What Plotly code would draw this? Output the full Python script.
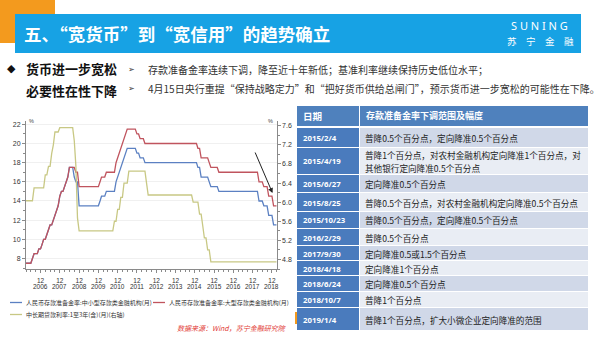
import pandas as pd
import plotly.graph_objects as go

W, H = 600, 338
CJK = "Noto Sans CJK SC"

# ---- data -------------------------------------------------------------
months = pd.date_range("2006-03-31", "2019-03-31", freq="ME")

# RRR, small & medium depository institutions (%, monthly)
rrr_small = [
    7.5, 7.5, 7.5, 7.5, 8.0, 8.5, 8.5, 8.5, 9.0, 9.0,
    9.5, 10.0, 10.0, 10.5, 11.0, 11.5, 11.5, 12.0, 12.5, 13.0, 13.5, 14.5,
    15.0, 15.0, 15.5, 16.0, 16.5, 17.5, 17.5, 17.5, 16.5, 16.0, 16.0, 13.5,
    13.5, 13.5, 13.5, 13.5, 13.5, 13.5, 13.5, 13.5, 13.5, 13.5, 13.5, 13.5,
    14.0, 14.5, 14.5, 14.5, 15.0, 15.0, 15.0, 15.0, 15.0, 15.0, 16.0, 16.5,
    17.0, 17.5, 18.0, 18.5, 19.0, 19.5, 19.5, 19.5, 19.5, 19.5, 19.5, 19.0,
    19.0, 18.5, 18.5, 18.5, 18.0, 18.0, 18.0, 18.0, 18.0, 18.0, 18.0, 18.0,
    18.0, 18.0, 18.0, 18.0, 18.0, 18.0, 18.0, 18.0, 18.0, 18.0, 18.0, 18.0,
    18.0, 18.0, 18.0, 18.0, 18.0, 18.0, 18.0, 18.0, 18.0, 18.0, 18.0, 18.0,
    18.0, 17.5, 17.5, 16.5, 16.5, 16.5, 16.5, 16.5, 16.0, 15.5, 15.5, 15.5,
    15.5, 15.5, 15.0, 15.0, 15.0, 15.0, 15.0, 15.0, 15.0, 15.0, 15.0, 15.0,
    15.0, 15.0, 15.0, 15.0, 15.0, 15.0, 15.0, 15.0, 15.0, 15.0, 15.0, 15.0,
    15.0, 15.0, 15.0, 14.0, 14.0, 14.0, 13.5, 13.5, 13.5, 12.5, 12.5, 12.5,
    11.5, 11.5, 11.5,
]

# RRR, large depository institutions (%, monthly)
rrr_large = [
    7.5, 7.5, 7.5, 7.5, 8.0, 8.5, 8.5, 8.5, 9.0, 9.0,
    9.5, 10.0, 10.0, 10.5, 11.0, 11.5, 11.5, 12.0, 12.5, 13.0, 13.5, 14.5,
    15.0, 15.0, 15.5, 16.0, 16.5, 17.5, 17.5, 17.5, 17.5, 17.0, 17.0, 15.5,
    15.5, 15.5, 15.5, 15.5, 15.5, 15.5, 15.5, 15.5, 15.5, 15.5, 15.5, 15.5,
    16.0, 16.5, 16.5, 16.5, 17.0, 17.0, 17.0, 17.0, 17.0, 17.0, 18.0, 18.5,
    19.0, 19.5, 20.0, 20.5, 21.0, 21.5, 21.5, 21.5, 21.5, 21.5, 21.5, 21.0,
    21.0, 20.5, 20.5, 20.5, 20.0, 20.0, 20.0, 20.0, 20.0, 20.0, 20.0, 20.0,
    20.0, 20.0, 20.0, 20.0, 20.0, 20.0, 20.0, 20.0, 20.0, 20.0, 20.0, 20.0,
    20.0, 20.0, 20.0, 20.0, 20.0, 20.0, 20.0, 20.0, 20.0, 20.0, 20.0, 20.0,
    20.0, 19.5, 19.5, 18.5, 18.5, 18.5, 18.5, 18.5, 18.0, 17.5, 17.5, 17.5,
    17.5, 17.5, 17.0, 17.0, 17.0, 17.0, 17.0, 17.0, 17.0, 17.0, 17.0, 17.0,
    17.0, 17.0, 17.0, 17.0, 17.0, 17.0, 17.0, 17.0, 17.0, 17.0, 17.0, 17.0,
    17.0, 17.0, 17.0, 16.0, 16.0, 16.0, 15.5, 15.5, 15.5, 14.5, 14.5, 14.5,
    13.5, 13.5, 13.5,
]

# medium/long-term loan rate, 1-3 years (%, monthly, right axis)
loan_1_3y = [
    6.03, 6.03, 6.03, 6.03, 6.03, 6.30, 6.30, 6.30, 6.30, 6.30,
    6.30, 6.30, 6.57, 6.57, 6.75, 6.75, 7.02, 7.20, 7.47, 7.47, 7.47, 7.56,
    7.56, 7.56, 7.56, 7.56, 7.56, 7.56, 7.56, 7.56, 7.29, 6.75, 5.67, 5.40,
    5.40, 5.40, 5.40, 5.40, 5.40, 5.40, 5.40, 5.40, 5.40, 5.40, 5.40, 5.40,
    5.40, 5.40, 5.40, 5.40, 5.40, 5.40, 5.40, 5.40, 5.40, 5.60, 5.60, 5.85,
    5.85, 6.10, 6.10, 6.40, 6.40, 6.40, 6.65, 6.65, 6.65, 6.65, 6.65, 6.65,
    6.65, 6.65, 6.65, 6.65, 6.65, 6.40, 6.15, 6.15, 6.15, 6.15, 6.15, 6.15,
    6.15, 6.15, 6.15, 6.15, 6.15, 6.15, 6.15, 6.15, 6.15, 6.15, 6.15, 6.15,
    6.15, 6.15, 6.15, 6.15, 6.15, 6.15, 6.15, 6.15, 6.15, 6.15, 6.00, 6.00,
    6.00, 6.00, 5.75, 5.75, 5.50, 5.25, 5.25, 5.00, 5.00, 4.75, 4.75, 4.75,
    4.75, 4.75, 4.75, 4.75, 4.75, 4.75, 4.75, 4.75, 4.75, 4.75, 4.75, 4.75,
    4.75, 4.75, 4.75, 4.75, 4.75, 4.75, 4.75, 4.75, 4.75, 4.75, 4.75, 4.75,
    4.75, 4.75, 4.75, 4.75, 4.75, 4.75, 4.75, 4.75, 4.75, 4.75, 4.75, 4.75,
    4.75, 4.75, 4.75,
]

series_names = [
    "人民币存款准备金率:中小型存款类金融机构(月)",
    "人民币存款准备金率:大型存款类金融机构(月)",
    "中长期贷款利率:1至3年(含)(月)(右轴)",
]
series_colors = ["#5B80C2", "#C0545E", "#C8C884"]

year_ticks = list(range(2006, 2019))
month_label = "12"
left_ticks = [8, 10, 12, 14, 16, 18, 20, 22]
right_ticks = [4.8, 5.2, 5.6, 6.0, 6.4, 6.8, 7.2, 7.6]

table_header = ["日期", "存款准备金率下调范围及幅度"]
cut_dates = ["2015/2/4", "2015/4/19", "2015/6/27", "2015/8/25", "2015/10/23",
             "2016/2/29", "2017/9/30", "2018/4/18", "2018/6/24", "2018/10/7",
             "2019/1/4"]
cut_details = [
    "普降0.5个百分点，定向降准0.5个百分点",
    "普降1个百分点，对农村金融机构定向降准1个百分点，对<br>其他银行定向降准0.5个百分点",
    "定向降准0.5个百分点",
    "普降0.5个百分点，对农村金融机构定向降准0.5个百分点",
    "普降0.5个百分点，定向降准0.5个百分点",
    "普降0.5个百分点",
    "定向降准0.5或1.5个百分点",
    "定向降准1个百分点",
    "定向降准0.5个百分点",
    "普降1个百分点",
    "普降1个百分点，扩大小微企业定向降准的范围",
]


# ---- helpers (pixel -> paper) -----------------------------------------
def px(x):
    return x / W


def py(y):
    return 1 - y / H


shapes = []
annotations = []


def rect(x0, y0, x1, y1, color):
    shapes.append(dict(type="rect", xref="paper", yref="paper",
                       x0=px(x0), x1=px(x1), y0=py(y1), y1=py(y0),
                       fillcolor=color, line=dict(width=0), layer="below"))


def text(x, y, s, size, color="#222", anchor="left", bold=False,
         family=CJK, italic=False, xref="paper"):
    annotations.append(dict(
        xref=xref, yref="paper", x=px(x) if xref == "paper" else x,
        y=py(y), text=s,
        showarrow=False, xanchor=anchor, yanchor="middle",
        font=dict(size=size, color=color, family=family,
                  weight="bold" if bold else "normal",
                  style="italic" if italic else "normal"),
        align="left"))


# ---- header -----------------------------------------------------------
rect(0, 0, 55, 43, "#F39A1E")
rect(15, 14, 581, 53, "#17A2E4")
text(22, 33.5, "五、“宽货币”到“宽信用”的趋势确立", 17.5, "white", bold=True)
text(539, 26, "S U N I N G", 11, "white", anchor="center",
     family="Noto Sans")
for ch, cx in zip("苏宁金融", [512, 531, 550, 569]):
    text(cx, 41, ch, 9.5, "white", anchor="center")

# ---- key points -------------------------------------------------------
text(5, 68.5, "◆", 11, "#111", family="DejaVu Sans")
text(24, 68.5, "货币进一步宽松", 13, "#111", bold=True)
text(24, 90.5, "必要性在性下降", 13, "#111", bold=True)
text(126, 69, "➢", 8, "#333", family="DejaVu Sans")
text(146, 69, "存款准备金率连续下调，降至近十年新低；基准利率继续保持历史低位水平；",
     10, "#333")
text(126, 88, "➢", 8, "#333", family="DejaVu Sans")
text(146, 88, "4月15日央行重提“保持战略定力”和“把好货币供给总闸门”，预示货币进一步宽松的可能性在下降。",
     10, "#333")

# ---- table ------------------------------------------------------------
hdr_top, hdr_bot = 106, 126
row_bounds = [(128, 147), (148, 174), (175, 192), (193, 211), (212, 228),
              (229, 245), (246, 260), (261, 275), (276, 291), (292, 307),
              (308, 330)]
c1x0, c1x1, c2x0, c2x1 = 297, 359, 360, 588
rect(c1x0, hdr_top, c1x1, hdr_bot, "#4F81BD")
rect(c2x0, hdr_top, c2x1, hdr_bot, "#4F81BD")
text(301, (hdr_top + hdr_bot) / 2, table_header[0], 9.5, "white", bold=True)
text(364, (hdr_top + hdr_bot) / 2, table_header[1], 9, "white", bold=True)
for i, ((t, b), d, s) in enumerate(zip(row_bounds, cut_dates, cut_details)):
    rect(c1x0, t, c1x1, b, "#4A7BBD")
    rect(c2x0, t, c2x1, b, "#D0D8E8" if i % 2 == 0 else "#E9EDF4")
    mid = (t + b) / 2 + 0.5
    text(301, mid, d, 7.8, "white", bold=True, family="Noto Sans")
    lines = s.split("<br>")
    step = 13
    for k, ln in enumerate(lines):
        text(363, mid + (k - (len(lines) - 1) / 2) * step, ln, 8.6, "#222")
rect(295, 312, 297, 324, "#F39A1E")

# ---- chart legend & source -------------------------------------------
legend_slots = [(10, 302.5), (153, 302.5), (10, 314.5)]
for (lx, ly), name, col in zip(legend_slots, series_names, series_colors):
    shapes.append(dict(type="line", xref="paper", yref="paper",
                       x0=px(lx), x1=px(lx + 12), y0=py(ly), y1=py(ly),
                       line=dict(color=col, width=1.3)))
    text(lx + 14, ly, name, 6, "#333")
text(288, 327.5, "数据来源：Wind，苏宁金融研究院", 7, "#E23B36",
     anchor="right", italic=True)

# unit marks on both value axes
text(27, 121, "%", 5.5, "#444", family="Liberation Sans")
text(275, 121, "%", 5.5, "#444", anchor="right", family="Liberation Sans")

# trend arrow over the latest RRR cuts
annotations.append(dict(
    xref="paper", yref="paper", x=px(272.5), y=py(193),
    ax=-18, ay=-42, showarrow=True, arrowhead=2, arrowsize=1,
    arrowwidth=1, arrowcolor="#222", text=""))

# ---- traces -----------------------------------------------------------
fig = go.Figure()
fig.add_trace(go.Scatter(x=months, y=rrr_small, name=series_names[0],
                         mode="lines", line=dict(color=series_colors[0], width=1.3)))
fig.add_trace(go.Scatter(x=months, y=rrr_large, name=series_names[1],
                         mode="lines", line=dict(color=series_colors[1], width=1.3)))
fig.add_trace(go.Scatter(x=months, y=loan_1_3y, name=series_names[2],
                         mode="lines", yaxis="y2",
                         line=dict(color=series_colors[2], width=1.3)))

tick_dates = [pd.Timestamp(f"{y}-12-31").strftime("%Y-%m-%d") for y in year_ticks]
minor_dates = [d.strftime("%Y-%m-%d")
               for d in pd.date_range("2006-03-31", "2019-03-31", freq="QE")]

# year row under the month-number tick labels, placed on the x scale
for d, yr in zip(tick_dates, year_ticks):
    text(d, 286.5, str(yr), 6.5, "#333", anchor="center",
         family="Liberation Sans", xref="x")

axis_line = "#8A8A8A"
tick_font = dict(family="Liberation Sans", size=7, color="#333")

fig.update_layout(
    width=W, height=H, margin=dict(l=0, r=0, t=0, b=0),
    paper_bgcolor="white", plot_bgcolor="white", showlegend=False,
    shapes=shapes, annotations=annotations,
    xaxis=dict(
        domain=[px(26), px(276.7)], type="date", side="bottom",
        range=[months[0].strftime("%Y-%m-%d"), months[-1].strftime("%Y-%m-%d")],
        tickmode="array", tickvals=tick_dates,
        ticktext=[month_label] * len(tick_dates),
        tickfont=dict(family="Liberation Sans", size=6.5, color="#333"),
        ticklabelstandoff=2,
        ticks="outside", ticklen=3, tickcolor=axis_line,
        showline=True, linecolor=axis_line, linewidth=1,
        showgrid=False, zeroline=False,
        minor=dict(tickvals=minor_dates, ticks="outside", ticklen=2,
                   tickcolor=axis_line, showgrid=False),
    ),
    yaxis=dict(
        domain=[py(269), py(121)], range=[6.9, 22.35],
        tickmode="array", tickvals=left_ticks,
        ticks="outside", ticklen=3, tickcolor=axis_line,
        showline=True, linecolor=axis_line, linewidth=1,
        showgrid=True, gridcolor="#F0F0F0", gridwidth=1,
        zeroline=False, tickfont=tick_font,
        minor=dict(dtick=1, ticks="outside", ticklen=2,
                   tickcolor=axis_line, showgrid=False),
    ),
    yaxis2=dict(
        overlaying="y", side="right", anchor="x", range=[4.6, 7.7],
        tickmode="array", tickvals=right_ticks,
        ticktext=[f"{v:.1f}" for v in right_ticks],
        ticks="outside", ticklen=3, tickcolor=axis_line,
        showline=True, linecolor=axis_line, linewidth=1,
        showgrid=False, zeroline=False, tickfont=tick_font,
        minor=dict(dtick=0.2, ticks="outside", ticklen=2,
                   tickcolor=axis_line, showgrid=False),
    ),
)

fig.write_html("out.html")
